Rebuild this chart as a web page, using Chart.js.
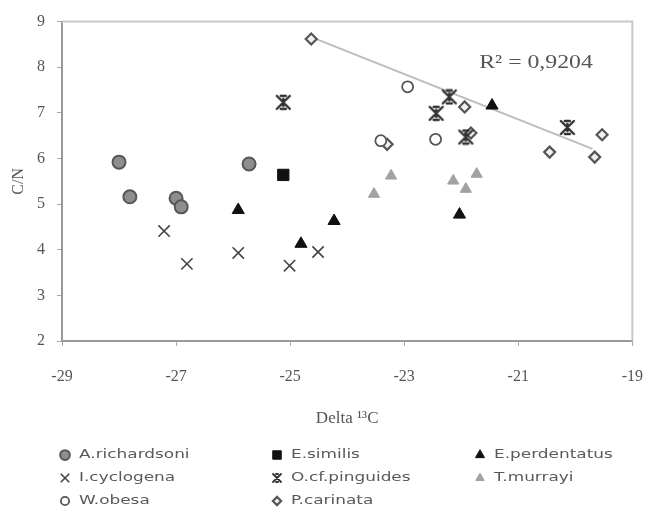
<!DOCTYPE html>
<html>
<head>
<meta charset="utf-8">
<script src="https://cdn.jsdelivr.net/npm/chart.js@4/dist/chart.umd.min.js"></script>
<style>
  html, body { margin: 0; padding: 0; background: #fff; }
  #wrap { width: 664px; height: 509px; }
</style>
</head>
<body>
<div id="wrap"><canvas id="fig"></canvas></div>
<script>
// values: [delta 13C, C/N]
var aRichardsoni = [[-28.0, 5.92], [-27.81, 5.16], [-27.0, 5.13], [-26.91, 4.94], [-25.72, 5.88]];
var eSimilis = [[-25.12, 5.64]];
var ePerdentatus = [[-25.91, 4.87], [-24.81, 4.13], [-24.23, 4.63], [-22.03, 4.77], [-21.46, 7.16]];
var iCyclogena = [[-27.21, 4.41], [-26.81, 3.69], [-25.91, 3.93], [-25.01, 3.65], [-24.51, 3.95]];
var oPinguides = [[-25.12, 7.23], [-22.21, 7.35], [-22.44, 6.99], [-21.92, 6.47], [-20.14, 6.68]];
var wObesa = [[-22.94, 7.57], [-22.45, 6.42], [-23.41, 6.39]];
var pCarinata = [[-24.63, 8.62], [-21.94, 7.13], [-21.83, 6.56], [-23.30, 6.31], [-20.45, 6.14], [-19.66, 6.03], [-19.53, 6.52]];
var tMurrayi = [[-23.53, 5.22], [-23.23, 5.62], [-22.14, 5.51], [-21.92, 5.33], [-21.73, 5.66]];
var trendLine = [[-24.55, 8.62], [-19.7, 6.21]];
var rSquaredLabel = 'R\u00B2 = 0,9204';

var xTicks = { min: -29, max: -19, step: 2 };
var yTicks = { min: 2, max: 9, step: 1 };

function pts(arr) {
  return arr.map(function (p) { return { x: p[0], y: p[1] }; });
}

// X with short bars on top and bottom, like the old office "star" marker
function barredCross(size, color, lw) {
  var c = document.createElement('canvas');
  c.width = size; c.height = size;
  var g = c.getContext('2d');
  var m = 2, s = size - 2, bar = Math.round(size * 0.22);
  g.strokeStyle = color;
  g.lineWidth = lw;
  g.lineCap = 'round';
  g.beginPath();
  g.moveTo(m, m); g.lineTo(s, s);
  g.moveTo(s, m); g.lineTo(m, s);
  g.moveTo(m + bar, m); g.lineTo(s - bar, m);
  g.moveTo(m + bar, s); g.lineTo(s - bar, s);
  g.moveTo(size / 2, m + 3); g.lineTo(size / 2, s - 3);
  g.stroke();
  return c;
}

var pinguidesMark = barredCross(17, '#333', 2.4);
var pinguidesMarkSmall = barredCross(12, '#333', 1.8);

var datasets = [
  { label: 'A.richardsoni', data: pts(aRichardsoni), pointStyle: 'circle', pointRadius: 6.5,
    backgroundColor: '#8e8e8e', borderColor: '#575757', borderWidth: 2 },
  { label: 'E.similis', data: pts(eSimilis), pointStyle: 'rect', pointRadius: 8,
    backgroundColor: '#111', borderColor: '#111', borderWidth: 1 },
  { label: 'E.perdentatus', data: pts(ePerdentatus), pointStyle: 'triangle', pointRadius: 7,
    backgroundColor: '#111', borderColor: '#111', borderWidth: 1 },
  { label: 'I.cyclogena', data: pts(iCyclogena), pointStyle: 'crossRot', pointRadius: 8,
    backgroundColor: '#444', borderColor: '#444', borderWidth: 1.6 },
  { label: 'O.cf.pinguides', data: pts(oPinguides), pointStyle: pinguidesMark,
    backgroundColor: '#333', borderColor: '#333', borderWidth: 1 },
  { label: 'T.murrayi', data: pts(tMurrayi), pointStyle: 'triangle', pointRadius: 6.5,
    backgroundColor: '#a2a2a2', borderColor: '#a2a2a2', borderWidth: 1 },
  { label: 'W.obesa', data: pts(wObesa), pointStyle: 'circle', pointRadius: 5.5,
    backgroundColor: '#fff', borderColor: '#555', borderWidth: 1.8 },
  { label: 'P.carinata', data: pts(pCarinata), pointStyle: 'rectRot', pointRadius: 5.5,
    backgroundColor: '#f2f2f2', borderColor: '#555', borderWidth: 2.2 },
  { label: 'trend', type: 'line', data: pts(trendLine), borderColor: '#bcbcbc', borderWidth: 2,
    pointRadius: 0, fill: false, order: 10 }
];

// legend items in the picture's 3-column order
var legendItems = [
  { i: 0, col: 0, row: 0 }, { i: 1, col: 1, row: 0 }, { i: 2, col: 2, row: 0 },
  { i: 3, col: 0, row: 1 }, { i: 4, col: 1, row: 1 }, { i: 5, col: 2, row: 1 },
  { i: 6, col: 0, row: 2 }, { i: 7, col: 1, row: 2 }
];
var legendColX = [65, 277, 480];
var legendRowY = [455, 478, 501];

var framePlugin = {
  id: 'frame',
  beforeDatasetsDraw: function (chart) {
    var a = chart.chartArea, ctx = chart.ctx;
    ctx.save();
    ctx.strokeStyle = '#c8c8c8';
    ctx.lineWidth = 2;
    ctx.beginPath();
    ctx.moveTo(a.left, a.top);
    ctx.lineTo(a.right, a.top);
    ctx.lineTo(a.right, a.bottom);
    ctx.stroke();
    ctx.restore();
  },
  afterDraw: function (chart) {
    var ctx = chart.ctx;
    ctx.save();
    // R squared label
    ctx.fillStyle = '#555';
    ctx.font = '19px "Liberation Serif"';
    ctx.textAlign = 'center';
    ctx.textBaseline = 'middle';
    ctx.translate(536, 63);
    ctx.scale(1.25, 1);
    ctx.fillText(rSquaredLabel, 0, 0);
    ctx.restore();

    legendItems.forEach(function (it) {
      var ds = chart.data.datasets[it.i];
      var x = legendColX[it.col], y = legendRowY[it.row];
      ctx.save();
      ctx.fillStyle = ds.backgroundColor;
      ctx.strokeStyle = ds.borderColor;
      ctx.lineWidth = ds.borderWidth;
      var style = ds.pointStyle === pinguidesMark ? pinguidesMarkSmall : ds.pointStyle;
      Chart.helpers.drawPoint(ctx, {
        pointStyle: style, radius: (ds.pointRadius || 6) * 0.75, rotation: 0,
        borderWidth: ds.borderWidth
      }, x, y);
      ctx.restore();

      ctx.save();
      ctx.fillStyle = '#5a5a5a';
      ctx.font = '13px "DejaVu Sans"';
      ctx.textAlign = 'left';
      ctx.textBaseline = 'middle';
      ctx.translate(x + 14, y);
      ctx.scale(1.3, 1);
      ctx.fillText(ds.label, 0, 0);
      ctx.restore();
    });
  }
};

new Chart(document.getElementById('fig'), {
  type: 'scatter',
  data: { datasets: datasets },
  plugins: [framePlugin],
  options: {
    responsive: true,
    maintainAspectRatio: false,
    animation: false,
    layout: { padding: { top: 18, right: 12, left: 0, bottom: 79 } },
    plugins: { legend: { display: false }, tooltip: { enabled: false } },
    scales: {
      x: {
        type: 'linear',
        min: xTicks.min, max: xTicks.max,
        afterFit: function (scale) { scale.height = 89; },
        ticks: { stepSize: xTicks.step, padding: 21, color: '#555',
          font: { family: 'Liberation Serif', size: 16 } },
        grid: { drawOnChartArea: false, drawTicks: true, tickLength: 5, color: '#aaa' },
        border: { color: '#9a9a9a', width: 2 },
        title: { display: true, text: 'Delta \u00B9\u00B3C', color: '#555',
          font: { family: 'Liberation Serif', size: 17 }, padding: { top: 0, bottom: 1 } }
      },
      y: {
        type: 'linear',
        min: yTicks.min, max: yTicks.max,
        afterFit: function (scale) { scale.width = 62; },
        ticks: { stepSize: yTicks.step, padding: 12, color: '#555',
          font: { family: 'Liberation Serif', size: 16 } },
        grid: { drawOnChartArea: false, drawTicks: true, tickLength: 5, color: '#aaa' },
        border: { color: '#9a9a9a', width: 2 },
        title: { display: true, text: 'C/N', color: '#555',
          font: { family: 'Liberation Serif', size: 16 }, padding: { top: 9, bottom: 0 } }
      }
    }
  }
});
</script>
</body>
</html>
